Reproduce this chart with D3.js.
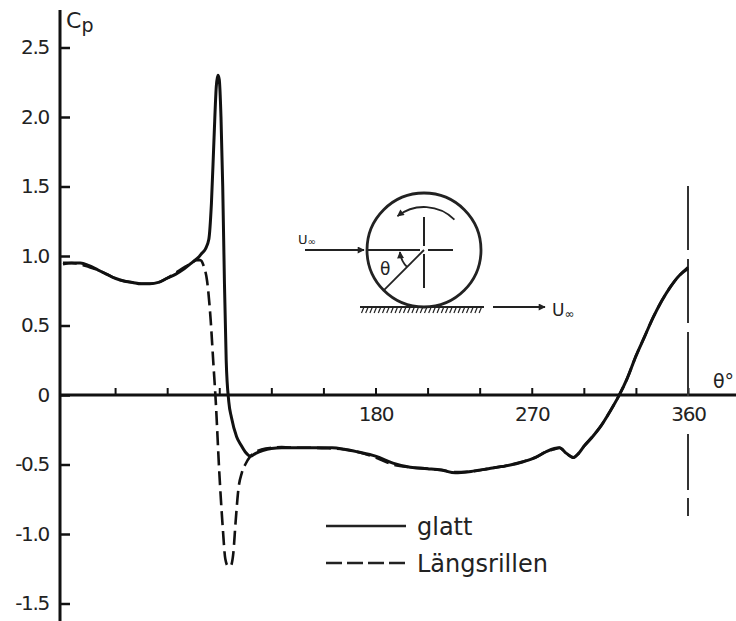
<!DOCTYPE html>
<html>
<head>
<meta charset="utf-8">
<script src="https://cdn.jsdelivr.net/npm/d3@7"></script>
<style>
  html, body { margin: 0; padding: 0; background: #fff; }
  svg { display: block; }
  text { font-family: "DejaVu Sans", sans-serif; fill: #222; }
</style>
</head>
<body>
<div id="chart"></div>
<script>
// values (theta in degrees, cp)
const thetaGlatt = [0, 5, 10, 15, 20, 25, 30, 35, 40, 45, 50, 55, 60, 65, 70, 75, 78, 80, 82, 84, 85.5, 87, 88.3, 89.2, 90, 91, 92, 93, 94, 95.5, 97, 100, 102.5, 105, 108, 111, 115, 120, 126, 135, 145, 155, 162, 170, 180, 190, 200, 210, 218, 226, 235, 245, 255, 265, 272, 278, 283, 286, 290, 294, 297, 300, 305, 310, 315, 320, 325, 330, 335, 340, 345, 350, 355, 360];
const cpGlatt = [0.95, 0.95, 0.95, 0.93, 0.90, 0.87, 0.84, 0.82, 0.81, 0.80, 0.80, 0.81, 0.84, 0.87, 0.91, 0.96, 0.99, 1.02, 1.05, 1.12, 1.38, 1.85, 2.22, 2.30, 2.27, 2.00, 1.50, 0.80, 0.25, -0.05, -0.16, -0.30, -0.36, -0.41, -0.44, -0.42, -0.40, -0.385, -0.38, -0.38, -0.38, -0.38, -0.39, -0.41, -0.44, -0.49, -0.52, -0.53, -0.54, -0.56, -0.55, -0.53, -0.51, -0.48, -0.45, -0.41, -0.385, -0.38, -0.42, -0.45, -0.42, -0.37, -0.30, -0.22, -0.12, -0.01, 0.12, 0.28, 0.42, 0.56, 0.68, 0.78, 0.86, 0.91];

const thetaRillen = [0, 5, 10, 15, 20, 25, 30, 35, 40, 45, 50, 55, 60, 65, 70, 74, 77, 79, 81, 83, 85, 86.5, 88, 90, 92, 93.5, 95, 96.5, 98, 99.5, 101, 103, 105, 108, 111, 115, 120, 126, 135, 145, 155, 162, 170, 180, 190, 200, 210, 218, 226, 235, 245, 255, 265, 272, 278, 283, 286, 290, 294, 297, 300, 305, 310, 315, 320, 325, 330, 335, 340, 345, 350, 355, 360];
const cpRillen = [0.94, 0.95, 0.94, 0.92, 0.90, 0.87, 0.84, 0.82, 0.81, 0.80, 0.80, 0.81, 0.84, 0.88, 0.92, 0.95, 0.97, 0.97, 0.93, 0.82, 0.55, 0.25, -0.05, -0.55, -0.95, -1.18, -1.23, -1.23, -1.15, -0.90, -0.68, -0.56, -0.50, -0.44, -0.41, -0.39, -0.38, -0.375, -0.38, -0.38, -0.385, -0.39, -0.41, -0.45, -0.50, -0.52, -0.53, -0.54, -0.555, -0.55, -0.53, -0.51, -0.48, -0.45, -0.41, -0.39, -0.38, -0.42, -0.45, -0.42, -0.37, -0.30, -0.22, -0.12, -0.01, 0.12, 0.28, 0.42, 0.56, 0.68, 0.78, 0.86, 0.92];

const yTicks = [-1.5, -1.0, -0.5, 0, 0.5, 1.0, 1.5, 2.0, 2.5];
const yTickLabels = ["-1.5", "-1.0", "-0.5", "0", "0.5", "1.0", "1.5", "2.0", "2.5"];
const xTicks = [30, 60, 90, 120, 150, 180, 210, 240, 270, 300, 330, 360];
const xTickLabels = {180: "180", 270: "270", 360: "360"};

const seriesNames = ["glatt", "Längsrillen"];

const width = 736, height = 621;
const axisX = 60;

const x = d3.scaleLinear().domain([0, 360]).range([63, 688]);
const y = d3.scaleLinear().domain([-1.5, 2.5]).range([603.5, 47.5]);

const svg = d3.select('#chart')
  .append('svg')
    .attr('width', width)
    .attr('height', height);

// y axis (ticks inside, labels to the left)
const yAxis = svg.append('g')
  .attr('transform', `translate(${axisX},0)`)
  .call(d3.axisLeft(y)
    .tickValues(yTicks)
    .tickFormat((d, i) => yTickLabels[i])
    .tickSizeInner(-10)
    .tickSizeOuter(0)
    .tickPadding(11));
yAxis.select('.domain').remove();
yAxis.selectAll('.tick line').attr('stroke', '#111').attr('stroke-width', 2.5);
yAxis.selectAll('.tick text')
  .style('font-size', '20px')
  .style('letter-spacing', '-1.3px')
  .attr('fill', '#1a1a1a');

svg.append('line')
  .attr('x1', axisX).attr('x2', axisX)
  .attr('y1', 10).attr('y2', height)
  .attr('stroke', '#111').attr('stroke-width', 3);

// x axis
const xAxis = svg.append('g')
  .attr('transform', `translate(0,${y(0)})`)
  .call(d3.axisBottom(x)
    .tickValues(xTicks)
    .tickFormat(d => xTickLabels[d] || '')
    .tickSizeInner(-7)
    .tickSizeOuter(0)
    .tickPadding(12));
xAxis.select('.domain').remove();
xAxis.selectAll('.tick line').attr('stroke', '#111').attr('stroke-width', 2);
xAxis.selectAll('.tick text')
  .style('font-size', '20px')
  .style('letter-spacing', '-1.3px')
  .attr('fill', '#1a1a1a');

svg.append('line')
  .attr('x1', axisX).attr('x2', width)
  .attr('y1', y(0)).attr('y2', y(0))
  .attr('stroke', '#111').attr('stroke-width', 3);

// dashed marker line at 360
svg.append('line')
  .attr('x1', x(360)).attr('x2', x(360))
  .attr('y1', 186).attr('y2', 402)
  .attr('stroke', '#333').attr('stroke-width', 2)
  .attr('stroke-dasharray', '64,9');
svg.append('line')
  .attr('x1', x(360)).attr('x2', x(360))
  .attr('y1', 434).attr('y2', 516)
  .attr('stroke', '#333').attr('stroke-width', 2)
  .attr('stroke-dasharray', '56,8');

// axis titles
const cp = svg.append('text').attr('x', 66).attr('y', 28).style('font-size', '22px');
cp.append('tspan').text('C');
cp.append('tspan').attr('dy', 4).style('font-size', '19px').text('p');

svg.append('text')
  .attr('x', 713).attr('y', 388)
  .style('font-size', '19px')
  .text('θ°');

// curves
const line = d3.line()
  .x(d => x(d[0]))
  .y(d => y(d[1]))
  .curve(d3.curveMonotoneX);

svg.append('path')
  .datum(d3.zip(thetaGlatt, cpGlatt))
  .attr('fill', 'none')
  .attr('stroke', '#111')
  .attr('stroke-width', 3)
  .attr('stroke-linejoin', 'round')
  .attr('d', line);

svg.append('path')
  .datum(d3.zip(thetaRillen, cpRillen))
  .attr('fill', 'none')
  .attr('stroke', '#111')
  .attr('stroke-width', 2.6)
  .attr('stroke-dasharray', '14,6')
  .attr('d', line);

// inset sketch: rotating cylinder on moving ground
const sk = svg.append('g');
const cx = 424, cy = 250, r = 57;
const ink = '#222';

sk.append('circle')
  .attr('cx', cx).attr('cy', cy).attr('r', r)
  .attr('fill', 'none').attr('stroke', ink).attr('stroke-width', 2.8);

sk.append('line').attr('x1', cx - r).attr('x2', cx - 4).attr('y1', cy).attr('y2', cy)
  .attr('stroke', ink).attr('stroke-width', 2);
sk.append('line').attr('x1', cx + 4).attr('x2', cx + 29).attr('y1', cy).attr('y2', cy)
  .attr('stroke', ink).attr('stroke-width', 2);
sk.append('line').attr('x1', cx).attr('x2', cx).attr('y1', cy - 33).attr('y2', cy - 4)
  .attr('stroke', ink).attr('stroke-width', 2);
sk.append('line').attr('x1', cx).attr('x2', cx).attr('y1', cy + 4).attr('y2', cy + 38)
  .attr('stroke', ink).attr('stroke-width', 2);

// radius at theta = 45 deg below upstream direction
const a = Math.PI / 4;
sk.append('line')
  .attr('x1', cx).attr('y1', cy)
  .attr('x2', cx - r * Math.cos(a)).attr('y2', cy + r * Math.sin(a))
  .attr('stroke', ink).attr('stroke-width', 1.8);

svg.append('defs').append('marker')
  .attr('id', 'head')
  .attr('viewBox', '0 0 10 10')
  .attr('refX', 9).attr('refY', 5)
  .attr('markerWidth', 8).attr('markerHeight', 7)
  .attr('markerUnits', 'userSpaceOnUse')
  .attr('orient', 'auto')
  .append('path').attr('d', 'M0,0L10,5L0,10Z').attr('fill', ink);

// small theta arc
const arcR = 24;
sk.append('path')
  .attr('d', `M${cx - arcR * Math.cos(a)},${cy + arcR * Math.sin(a)} A${arcR},${arcR} 0 0 1 ${cx - arcR},${cy + 2}`)
  .attr('fill', 'none').attr('stroke', ink).attr('stroke-width', 1.8)
  .attr('marker-end', 'url(#head)');
sk.append('text').attr('x', 380).attr('y', 275).style('font-size', '17px').text('θ');

// rotation arrow
const rr = 43;
const a1 = -45 * Math.PI / 180, a2 = -128 * Math.PI / 180;
sk.append('path')
  .attr('d', `M${cx + rr * Math.cos(a1)},${cy + rr * Math.sin(a1)} A${rr},${rr} 0 0 0 ${cx + rr * Math.cos(a2)},${cy + rr * Math.sin(a2)}`)
  .attr('fill', 'none').attr('stroke', ink).attr('stroke-width', 1.8)
  .attr('marker-end', 'url(#head)');

// free stream arrow
sk.append('line').attr('x1', 305).attr('x2', 364).attr('y1', cy).attr('y2', cy)
  .attr('stroke', ink).attr('stroke-width', 2).attr('marker-end', 'url(#head)');
const u1 = sk.append('text').attr('x', 298).attr('y', 244).style('font-size', '13px');
u1.append('tspan').text('U');
u1.append('tspan').attr('dy', 1).style('font-size', '10px').text('∞');

// ground with hatching
const gy = cy + r;
sk.append('line').attr('x1', 360).attr('x2', 484).attr('y1', gy).attr('y2', gy)
  .attr('stroke', ink).attr('stroke-width', 2);
sk.selectAll('.hatch')
  .data(d3.range(364, 484, 4.2))
  .join('line')
    .attr('x1', d => d).attr('y1', gy)
    .attr('x2', d => d - 2.5).attr('y2', gy + 6)
    .attr('stroke', ink).attr('stroke-width', 1.2);
sk.append('line').attr('x1', 493).attr('x2', 545).attr('y1', gy).attr('y2', gy)
  .attr('stroke', ink).attr('stroke-width', 2).attr('marker-end', 'url(#head)');
const u2 = sk.append('text').attr('x', 552).attr('y', 316).style('font-size', '17px');
u2.append('tspan').text('U');
u2.append('tspan').attr('dy', 2).style('font-size', '12px').text('∞');

// legend
const legend = svg.append('g').attr('transform', 'translate(326,526)');
legend.selectAll('line')
  .data(seriesNames)
  .join('line')
    .attr('x1', 0).attr('x2', 80)
    .attr('y1', (d, i) => i * 37).attr('y2', (d, i) => i * 37)
    .attr('stroke', '#222')
    .attr('stroke-width', 2.6)
    .attr('stroke-dasharray', (d, i) => i ? '16,5' : null);
legend.selectAll('text')
  .data(seriesNames)
  .join('text')
    .attr('x', 91)
    .attr('y', (d, i) => i * 37 + 9)
    .style('font-size', '24px')
    .text(d => d);
</script>
</body>
</html>
